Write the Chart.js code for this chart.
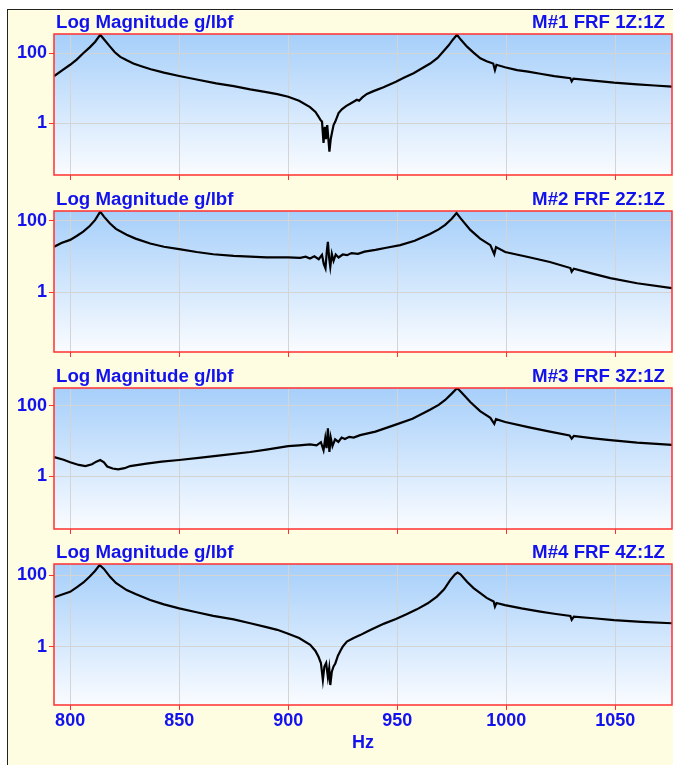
<!DOCTYPE html>
<html>
<head>
<meta charset="utf-8">
<script src="https://cdn.jsdelivr.net/npm/chart.js@4.4.0/dist/chart.umd.min.js"></script>
<style>
  html, body { margin: 0; padding: 0; background: #ffffff; width: 673px; height: 765px; overflow: hidden; }
  #frame { position: absolute; left: 7px; top: 9px; width: 720px; height: 800px;
           background: #FFFDE1; border-left: 1px solid #222; border-top: 1px solid #222; }
  canvas { position: absolute; left: 0; }
</style>
</head>
<body>
<div id="frame"></div>
<canvas id="m1" width="673" height="181" style="top:0px"></canvas>
<canvas id="m2" width="673" height="181" style="top:177px"></canvas>
<canvas id="m3" width="673" height="181" style="top:354px"></canvas>
<canvas id="m4" width="673" height="225" style="top:530px"></canvas>
<script>
// Frequency axis ticks (Hz) and magnitude ticks (g/lbf)
const hzTicks = [800, 850, 900, 950, 1000, 1050];
const magTicks = [1, 100];
const yTitle = 'Log Magnitude g/lbf';
const measTitles = ['M#1 FRF 1Z:1Z', 'M#2 FRF 2Z:1Z', 'M#3 FRF 3Z:1Z', 'M#4 FRF 4Z:1Z'];

// M#1 FRF 1Z:1Z
const hz1 = [792.7, 796, 800, 803, 806, 809, 811.5, 813.8, 815.5, 818.3, 820.5, 823, 826, 829, 833, 837, 843, 850, 858, 867, 875, 882.6, 890, 895, 900, 905, 910, 912.5, 913.9, 915, 915.5, 916.2, 916.8, 917.3, 917.9, 918.9, 919.5, 920.0, 920.8, 921.6, 923.1, 924.6, 926.5, 929, 931.5, 932.5, 934, 936.1, 939.1, 943.7, 949.4, 953, 957.5, 961, 965.1, 968.5, 971.2, 973.5, 975.5, 977.4, 979, 982, 985, 988.1, 991, 994, 994.8, 995.5, 999.4, 1005, 1010, 1015.6, 1022, 1029.4, 1030, 1030.8, 1040, 1049.4, 1060, 1068, 1076];
const mag1 = [22.4, 31.6, 47, 66, 100, 148, 214, 339, 251, 155, 107, 79, 63, 51, 42, 35, 28, 22.4, 17.8, 13.8, 11.5, 9.3, 7.8, 6.8, 5.75, 4.4, 2.9, 2.1, 1.55, 1.2, 1.12, 0.275, 0.79, 0.35, 0.89, 0.155, 0.35, 0.51, 0.89, 1.12, 1.95, 2.5, 3.1, 3.8, 4.7, 4.4, 5.5, 6.9, 8.3, 10.7, 15.5, 20, 27, 36, 51, 74, 115, 166, 245, 339, 251, 155, 105, 72, 59, 51, 33, 47, 40, 33, 30, 26, 22.4, 19.5, 15.8, 19, 16.6, 14.5, 12.9, 12, 11.2];

// M#2 FRF 2Z:1Z
const hz2 = [792.7, 796, 800, 803, 806, 809, 811.5, 813.8, 815.5, 818.3, 821, 825.9, 830, 836.7, 843, 850, 858, 865.6, 875, 882.6, 890, 900, 905.5, 908, 910, 912, 914, 915.5, 916.3, 917.1, 917.7, 918.2, 918.8, 919.3, 920, 920.8, 921.8, 923.1, 925, 927, 929, 932, 935, 940, 945, 951.4, 958, 965, 969, 972, 975, 977.2, 979, 983.5, 988, 992.7, 994.5, 995.3, 999.5, 1010, 1020, 1029.4, 1030, 1031, 1040, 1047.7, 1060, 1076];
const mag2 = [19, 24, 29.5, 38, 50, 72, 107, 182, 132, 85, 60, 41, 32, 23.4, 19, 16.2, 13.5, 11.7, 10.5, 10, 9.5, 9.5, 9.3, 10, 8.9, 10.2, 8.5, 11.2, 6.3, 4.7, 14, 26, 8.9, 5.2, 12, 7.6, 11.5, 9.5, 11.5, 11, 12.6, 12, 13.8, 15.5, 17.8, 21, 28, 43, 58, 78, 115, 166, 120, 56, 32, 21, 11.7, 18.6, 13.5, 9.8, 7.1, 4.8, 3.8, 4.6, 3.3, 2.5, 1.8, 1.32];

// M#3 FRF 3Z:1Z
const hz3 = [792.7, 797, 800, 804, 807, 810, 812, 813.8, 815.5, 817, 819.5, 822, 825, 827.5, 835, 842, 850, 860, 870, 882.6, 890, 900, 905, 910, 913, 915, 916.2, 917, 917.6, 918.2, 918.9, 919.5, 920.3, 921.5, 923, 924.5, 926, 928, 930, 933, 940, 949, 957, 965, 969, 972, 975, 977.5, 979.5, 983.5, 988, 992.7, 994.5, 995.3, 999.5, 1010, 1020, 1029, 1030, 1031, 1040, 1047.7, 1060, 1076];
const mag3 = [3.5, 2.95, 2.5, 2.1, 1.95, 2.2, 2.6, 2.9, 2.5, 1.9, 1.66, 1.58, 1.7, 1.95, 2.3, 2.6, 2.9, 3.4, 4.0, 4.9, 5.75, 7.2, 7.6, 8.1, 7.6, 9.3, 5.5, 12, 6.3, 23, 4.9, 12.6, 7.2, 11.2, 9.5, 12.6, 11.5, 13.2, 12.6, 14.8, 18.6, 29, 43, 78, 107, 148, 224, 324, 240, 129, 71, 46, 31, 42, 35, 25, 18.6, 14.5, 11.7, 14.1, 12, 10.7, 9.1, 7.8];

// M#4 FRF 4Z:1Z
const hz4 = [792.7, 796, 800, 803, 806.1, 809, 811.5, 813.5, 815.5, 818.3, 821, 825.9, 830, 836.7, 843, 850, 858, 865.6, 875, 882.6, 890, 895, 900, 905, 910.1, 912.5, 913.9, 915, 915.9, 916.6, 917.4, 918.2, 918.8, 919.3, 920, 920.8, 921.6, 922.8, 923.9, 925, 926.9, 930, 933, 936, 939.1, 944, 949.4, 954, 959, 964, 968.2, 971.5, 974.3, 976.5, 977.7, 979, 982, 985, 988.1, 991, 994.2, 994.8, 995.5, 999.4, 1007, 1015.6, 1022, 1029.4, 1030, 1031, 1040, 1049.4, 1062, 1076];
const mag4 = [24, 28, 34, 45, 62, 91, 132, 190, 148, 89, 60, 38, 29.5, 20, 15.1, 11.7, 9.1, 7.2, 5.75, 4.5, 3.5, 2.95, 2.3, 1.74, 1.12, 0.76, 0.52, 0.35, 0.117, 0.28, 0.35, 0.14, 0.25, 0.085, 0.2, 0.28, 0.34, 0.56, 0.76, 1.0, 1.38, 1.74, 2.1, 2.6, 3.2, 4.4, 5.9, 7.9, 11, 16.2, 25, 40, 72, 105, 117, 105, 65, 43, 31, 23, 18.2, 13.2, 16.6, 14.5, 11.7, 9.5, 8.3, 7.2, 5.6, 6.9, 6.2, 5.5, 4.9, 4.5];

// Vertical range (g/lbf) of each panel
const magMin = [0.0333, 0.0214, 0.0316, 0.0235];
const magMax = [356, 190, 324, 203];

const BLUE = '#1212EE';
const RED = '#FF3030';
const FAMILY = '"Liberation Sans", Arial, sans-serif';
const FONT = { family: FAMILY, size: 18, weight: 'bold' };

// Plot-area gradient, red frame and the two header captions of a panel
const panelDecor = {
  id: 'panelDecor',
  beforeDatasetsDraw(chart) {
    const { ctx, chartArea: a } = chart;
    ctx.save();
    const g = ctx.createLinearGradient(0, a.top, 0, a.bottom);
    g.addColorStop(0, 'rgb(166,207,250)');
    g.addColorStop(1, 'rgb(250,252,255)');
    ctx.globalCompositeOperation = 'destination-over';
    ctx.fillStyle = g;
    ctx.fillRect(a.left, a.top, a.right - a.left, a.bottom - a.top);
    ctx.restore();
  },
  afterDraw(chart, args, opts) {
    const { ctx, chartArea: a } = chart;
    ctx.save();
    ctx.strokeStyle = RED;
    ctx.lineWidth = 1.5;
    ctx.strokeRect(a.left, a.top, a.right - a.left, a.bottom - a.top);
    ctx.fillStyle = BLUE;
    ctx.font = `bold 18.7px ${FAMILY}`;
    ctx.textBaseline = 'alphabetic';
    ctx.textAlign = 'left';
    ctx.fillText(opts.left, a.left + 2, a.top - 6);
    ctx.textAlign = 'right';
    ctx.fillText(opts.right, a.right - 7, a.top - 6);
    ctx.restore();
  }
};

const series = [[hz1, mag1], [hz2, mag2], [hz3, mag3], [hz4, mag4]];

series.forEach(([hz, mag], i) => {
  const last = i === 3;
  new Chart(document.getElementById('m' + (i + 1)), {
    type: 'line',
    data: {
      datasets: [{
        data: hz.map((f, k) => ({ x: f, y: mag[k] })),
        borderColor: '#000000',
        borderWidth: 2.2,
        pointRadius: 0,
        tension: 0,
        fill: false
      }]
    },
    options: {
      responsive: false,
      animation: false,
      events: [],
      layout: { padding: { top: 34, right: 1, bottom: 0, left: 0 } },
      plugins: {
        legend: { display: false },
        tooltip: { enabled: false },
        panelDecor: { left: yTitle, right: measTitles[i] }
      },
      scales: {
        x: {
          type: 'linear',
          min: 792.6,
          max: 1076,
          afterBuildTicks: s => { s.ticks = hzTicks.map(v => ({ value: v })); },
          afterFit: s => { s.height = last ? 50 : 6; s.paddingLeft = 0; s.paddingRight = 0; },
          border: { display: false },
          grid: { color: '#D4D4D4', lineWidth: 1, tickColor: RED, tickLength: 5 },
          ticks: { display: last, color: BLUE, font: FONT, padding: 0, maxRotation: 0, callback: v => String(v) },
          title: { display: last, text: 'Hz', color: BLUE, font: FONT, padding: { top: 0, bottom: 1 } }
        },
        y: {
          type: 'logarithmic',
          min: magMin[i],
          max: magMax[i],
          afterBuildTicks: s => { s.ticks = magTicks.map(v => ({ value: v })); },
          afterFit: s => { s.width = 54; s.paddingTop = 0; s.paddingBottom = 0; },
          border: { display: false },
          grid: { color: '#D4D4D4', lineWidth: 1, tickColor: RED, tickLength: 5 },
          ticks: { color: BLUE, font: FONT, padding: 2, callback: v => String(v) }
        }
      }
    },
    plugins: [panelDecor]
  });
});
</script>
</body>
</html>
